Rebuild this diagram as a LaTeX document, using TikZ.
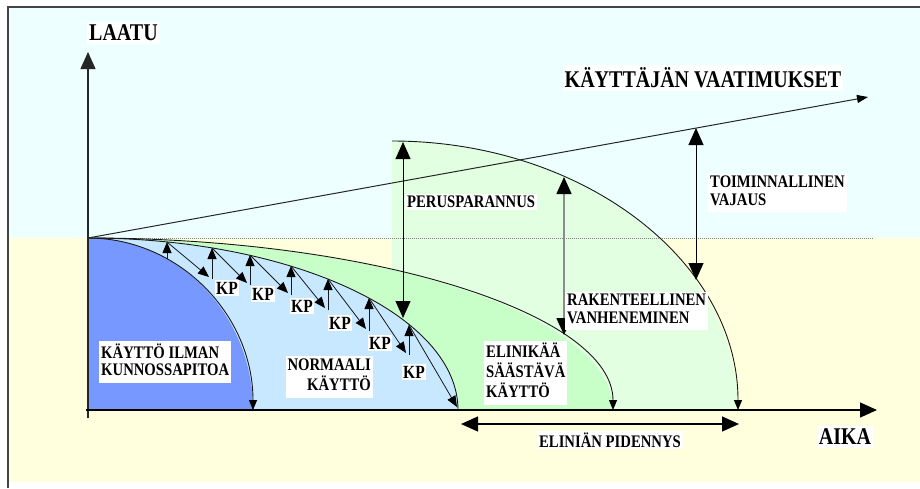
\documentclass[tikz,border=0pt]{standalone}
\usepackage{fontspec}
\setmainfont{Liberation Serif}
\usetikzlibrary{arrows.meta}
\definecolor{bgcyan}{HTML}{EEFFFF}
\definecolor{bgyellow}{HTML}{FFFFDD}
\definecolor{dblue}{HTML}{7799FF}
\definecolor{lblue}{HTML}{C8E8FF}
\definecolor{mgreen}{HTML}{C8FFC8}
\definecolor{lgreen}{HTML}{E2FFE2}
\definecolor{framegray}{HTML}{444444}
\newcommand\vtxt[2][l]{\scalebox{1}[1.2]{\begin{tabular}{@{}#1@{}}#2\end{tabular}}}
\newcommand\vs[1]{\scalebox{1}[1.2]{#1}}
\begin{document}
\begin{tikzpicture}[x=1pt,y=1pt,yscale=-1,
  bigtip/.style={-{Triangle[length=17pt,width=15pt]}},
  dbltip/.style={{Triangle[length=17pt,width=15pt]}-{Triangle[length=17pt,width=15pt]}},
  curve/.style={draw=black!90, line width=0.9pt},
  curvetip/.style={curve,-{Triangle[length=10pt,width=8pt,color=black]}},
  kparrow/.style={draw=black!90, line width=0.8pt, -{Triangle[length=11pt,width=9pt,color=black]}},
  lbl/.style={fill=white, inner xsep=2pt, inner ysep=2pt, font=\bfseries\fontsize{14.7}{14.5}\selectfont},
  biglbl/.style={fill=white, inner xsep=2pt, inner ysep=3pt, font=\bfseries\fontsize{20}{20}\selectfont},
  kp/.style={fill=white, inner xsep=1.5pt, inner ysep=1.5pt, font=\bfseries\fontsize{15.5}{15}\selectfont}]
\useasboundingbox (0,0) rectangle (920,488);
% background
\fill[white] (0,0) rectangle (920,488);
\fill[bgcyan] (9,8) rectangle (920,238);
\fill[bgyellow] (9,238) rectangle (920,482);
\draw[framegray, line width=1.6pt] (8,488) -- (8,7) -- (920,7);
% regions
\fill[lgreen] (392,410) -- (392,141) arc[start angle=-90, end angle=0, x radius=346, y radius=269] -- cycle;
\fill[mgreen] (88,410) -- (88,238) arc[start angle=-90, end angle=0, x radius=525, y radius=172] -- cycle;
\fill[lblue] (88,410) -- (88,238) arc[start angle=-90, end angle=0, x radius=370, y radius=172] -- cycle;
\fill[dblue] (88,410) -- (88,238) arc[start angle=-90, end angle=0, x radius=165, y radius=172] -- cycle;
% dotted level line
\coordinate (o) at (88,238);
\coordinate (lvl) at (874,238);
\draw[black!50, line width=0.9pt, dash pattern=on 1pt off 1pt] (o) -- (lvl);
% curves
\draw[curvetip] (392,141) arc[start angle=-90, end angle=0, x radius=346, y radius=269];
\draw[curvetip] (o) arc[start angle=-90, end angle=0, x radius=525, y radius=172];
\draw[curve] (o) arc[start angle=-90, end angle=0, x radius=370, y radius=172];
\draw[curvetip] (o) arc[start angle=-90, end angle=0, x radius=165, y radius=172];
% axes
\coordinate (ybot) at (88,418);
\coordinate (ytop) at (88,52);
\coordinate (xl) at (86,410);
\coordinate (xr) at (877,410);
\draw[black!85, line width=1.2pt, bigtip] (ybot) -- (ytop);
\draw[black, line width=1.3pt, bigtip] (xl) -- (xr);
% user requirements
\coordinate (req) at (868,97);
\draw[black!85, line width=1pt, -{Triangle[length=11pt,width=8pt,color=black]}] (o) -- (req);
% KP maintenance arrows
\coordinate (d0) at (167,259);
\coordinate (p0) at (167,242);
\coordinate (p1) at (212,248);
\coordinate (p2) at (250,255);
\coordinate (p3) at (291,266);
\coordinate (p4) at (328,279);
\coordinate (p5) at (369,298);
\coordinate (p6) at (409,325);
\coordinate (q1) at (209,277);
\coordinate (q2) at (247,283);
\coordinate (q3) at (288,293);
\coordinate (q4) at (325,308);
\coordinate (q5) at (366,329);
\coordinate (q6) at (406,353);
\coordinate (q7) at (457,407);
\coordinate (b1) at (212,279);
\coordinate (b2) at (250,285);
\coordinate (b3) at (291,295);
\coordinate (b4) at (328,310);
\coordinate (b5) at (369,331);
\coordinate (b6) at (409,355);
\draw[kparrow] (d0) -- (p0);
\draw[kparrow] (p0) -- (q1);
\draw[kparrow] (b1) -- (p1);
\draw[kparrow] (p1) -- (q2);
\draw[kparrow] (b2) -- (p2);
\draw[kparrow] (p2) -- (q3);
\draw[kparrow] (b3) -- (p3);
\draw[kparrow] (p3) -- (q4);
\draw[kparrow] (b4) -- (p4);
\draw[kparrow] (p4) -- (q5);
\draw[kparrow] (b5) -- (p5);
\draw[kparrow] (p5) -- (q6);
\draw[kparrow] (b6) -- (p6);
\draw[kparrow] (p6) -- (q7);
% vertical difference arrows
\coordinate (pa) at (403,142);
\coordinate (pb) at (403,318);
\draw[black, line width=1pt, dbltip] (pb) -- (pa);
\coordinate (ra) at (564,177);
\coordinate (rb) at (564,335);
\draw[black!45, line width=1.6pt, {Triangle[length=17pt,width=15pt,color=black]}-{Triangle[length=17pt,width=15pt,color=black]}] (ra) -- (rb);
\coordinate (ta) at (696,128);
\coordinate (tb) at (696,280);
\draw[black, line width=1pt, dbltip] (ta) -- (tb);
% life extension
\coordinate (ea) at (461,424);
\coordinate (eb) at (739,424);
\draw[black, line width=1.2pt, dbltip] (ea) -- (eb);
% labels
\node[biglbl, anchor=west] (laatu) at (87,33) {\vs{LAATU}};
\node[biglbl] (kv) at (703,78) {\vs{KÄYTTÄJÄN VAATIMUKSET}};
\node[biglbl] (aika) at (845,437) {\vs{AIKA}};
\node[lbl, anchor=west] (peru) at (405,202) {\vs{PERUSPARANNUS}};
\node[lbl, anchor=west] (toim) at (708,193) {\vtxt{TOIMINNALLINEN\\VAJAUS}};
\node[lbl, anchor=west] (rak) at (565,311) {\vtxt{RAKENTEELLINEN\\VANHENEMINEN}};
\node[lbl, anchor=west] (elin) at (484,373) {\vtxt{ELINIKÄÄ\\SÄÄSTÄVÄ\\KÄYTTÖ}};
\node[lbl, anchor=west] (kim) at (99,362) {\vtxt{KÄYTTÖ ILMAN\\KUNNOSSAPITOA}};
\node[lbl, anchor=east] (norm) at (373,377) {\vtxt[r]{NORMAALI\\KÄYTTÖ}};
\node[lbl] (pid) at (610,440) {\vs{ELINIÄN PIDENNYS}};
\node[kp] (kp1) at (227,288) {\vs{KP}};
\node[kp] (kp2) at (263,294) {\vs{KP}};
\node[kp] (kp3) at (302,306) {\vs{KP}};
\node[kp] (kp4) at (340,323) {\vs{KP}};
\node[kp] (kp5) at (380,343) {\vs{KP}};
\node[kp] (kp6) at (414,372) {\vs{KP}};
\end{tikzpicture}
\end{document}
